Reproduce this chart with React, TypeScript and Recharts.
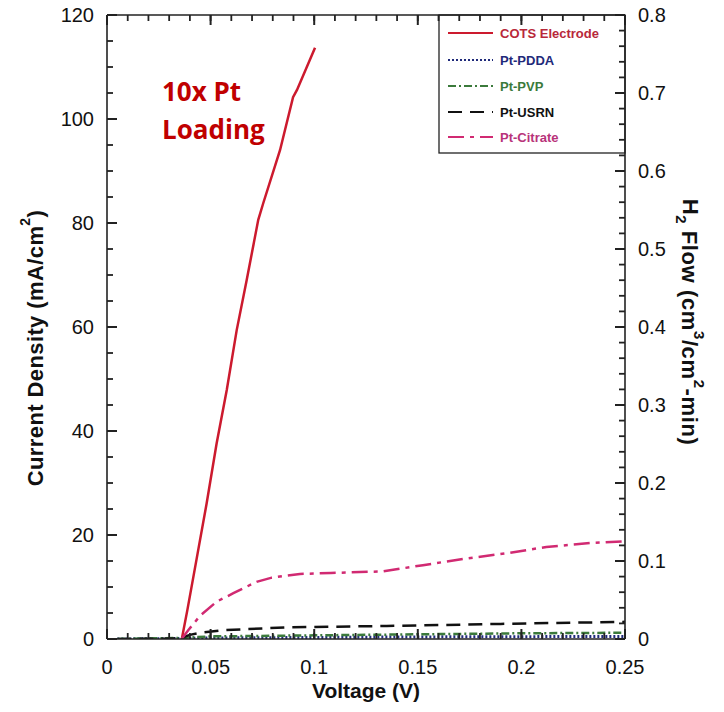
import { LineChart, Line, XAxis, YAxis } from "recharts"

// voltage (V) / current density (mA/cm2)
const cotsV = [0.0361, 0.0388, 0.0433, 0.0481, 0.0529, 0.0578, 0.0626, 0.0674, 0.073, 0.0754, 0.0835, 0.0898, 0.0917, 0.1004]
const cotsI = [0, 5.6, 15.5, 26.1, 37.6, 47.9, 59.4, 69, 80.6, 83.8, 94, 104.2, 105.6, 113.7]

const pddaV = [0.005, 0.036, 0.05, 0.1, 0.15, 0.2, 0.25]
const pddaI = [0, 0.1, 0.2, 0.3, 0.4, 0.45, 0.5]

const pvpV = [0.005, 0.036, 0.05, 0.1, 0.15, 0.2, 0.25]
const pvpI = [0, 0.2, 0.5, 0.7, 0.9, 1.1, 1.2]

const usrnV = [0.005, 0.035, 0.04, 0.045, 0.056, 0.087, 0.135, 0.19, 0.25]
const usrnI = [0, 0.1, 0.8, 1.2, 1.7, 2.25, 2.5, 2.9, 3.3]

const citrateV = [0.036, 0.0392, 0.045, 0.053, 0.061, 0.0722, 0.0795, 0.0931, 0.108, 0.133, 0.1525, 0.172, 0.193, 0.212, 0.2346, 0.25]
const citrateI = [0, 1.7, 4.5, 7.2, 8.8, 11.0, 11.8, 12.5, 12.7, 13.0, 14.2, 15.4, 16.5, 17.7, 18.5, 18.8]

const xMajor = [0, 0.05, 0.1, 0.15, 0.2, 0.25]
const yLeftMajor = [0, 20, 40, 60, 80, 100, 120]
const yRightMajor = [0, 0.1, 0.2, 0.3, 0.4, 0.5, 0.6, 0.7, 0.8]

const toPoints = (v: number[], i: number[]) => v.map((x, k) => ({ v: x, i: i[k] }))

const series = [
  { name: "COTS Electrode", data: toPoints(cotsV, cotsI), color: "#cc1a2e", dash: undefined, text: "#b8283a", width: 2.5 },
  { name: "Pt-PDDA", data: toPoints(pddaV, pddaI), color: "#1f2a7a", dash: "2 2", text: "#1f2a7a", width: 3 },
  { name: "Pt-PVP", data: toPoints(pvpV, pvpI), color: "#3b7a3b", dash: "8 3 2 3", text: "#3b7a3b", width: 2.5 },
  { name: "Pt-USRN", data: toPoints(usrnV, usrnI), color: "#111111", dash: "14 8", text: "#111111", width: 2.5 },
  { name: "Pt-Citrate", data: toPoints(citrateV, citrateI), color: "#d12a72", dash: "16 6 4 6", text: "#b8337a", width: 2.5 },
]

const font = "'Liberation Sans', Arial, sans-serif"
const ink = "#222"

// minor tick positions between the labelled ones
function buildTicks(max: number, step: number) {
  const n = Math.round(max / step)
  return Array.from({ length: n + 1 }, (_, k) => +(k * step).toFixed(4))
}
const isMajor = (v: number, majors: number[]) => majors.some((m) => Math.abs(m - v) < 1e-9)

const xTicks = buildTicks(0.25, 0.01)
const yLeftTicks = buildTicks(120, 5)
const yRightTicks = buildTicks(0.8, 0.02)

const MINOR = 6
const MAJOR = 10

type Side = "left" | "right" | "top" | "bottom"

// native tickLine draws the short (minor) mark; this adds the longer major mark and the label
const makeTick = (side: Side, majors: number[], margin: number, showLabel: boolean) => (props: any) => {
  const x = Number(props.x)
  const y = Number(props.y)
  const v = Number(props.payload.value)
  if (!isMajor(v, majors)) return <g />
  let d = ""
  let label = null
  const txt = { fontSize: 20, fontFamily: font, fill: "#111" }
  if (side === "left") {
    const ax = x + margin - MINOR
    d = `M${ax},${y}L${ax + MAJOR},${y}`
    if (showLabel) label = <text x={x} y={y} dy="0.35em" textAnchor="end" {...txt}>{String(v)}</text>
  } else if (side === "right") {
    const ax = x - margin + MINOR
    d = `M${ax},${y}L${ax - MAJOR},${y}`
    if (showLabel) label = <text x={x} y={y} dy="0.35em" textAnchor="start" {...txt}>{String(v)}</text>
  } else if (side === "bottom") {
    const ay = y - margin + MINOR
    d = `M${x},${ay}L${x},${ay - MAJOR}`
    if (showLabel) label = <text x={x} y={y} dy="0.71em" textAnchor="middle" {...txt}>{String(v)}</text>
  } else {
    const ay = y + margin - MINOR
    d = `M${x},${ay}L${x},${ay + MAJOR}`
  }
  return (
    <g>
      <path d={d} stroke={ink} strokeWidth={2} fill="none" />
      {label}
    </g>
  )
}

const axisLine = { stroke: ink, strokeWidth: 1.6 }
const tickLine = { stroke: ink, strokeWidth: 1.8 }

function Overlay() {
  const rows = [33, 60, 86, 112, 137]
  return (
    <svg width={724} height={712} style={{ position: "absolute", left: 0, top: 0, pointerEvents: "none" }}>
      {/* legend */}
      <rect x={439} y={15} width={186} height={138} fill="none" stroke={ink} strokeWidth={1.3} />
      {series.map((s, k) => (
        <g key={s.name}>
          <line x1={448} x2={493} y1={rows[k]} y2={rows[k]} stroke={s.color} strokeWidth={2.2} strokeDasharray={s.dash} />
          <text x={500} y={rows[k]} dy="0.35em" fontSize={13} fontWeight="bold" fontFamily={font} fill={s.text}>{s.name}</text>
        </g>
      ))}
      {/* axis titles */}
      <text x={35} y={348} transform="rotate(-90 35 348)" textAnchor="middle" dominantBaseline="central" fontSize={22} fontWeight="bold" fontFamily={font} letterSpacing={0.4} fill="#111">
        Current Density (mA/cm<tspan fontSize={14} dy={-10}>2</tspan><tspan dy={10}>)</tspan>
      </text>
      <text x={690} y={322} transform="rotate(90 690 322)" textAnchor="middle" dominantBaseline="central" fontSize={22} fontWeight="bold" fontFamily={font} letterSpacing={0.6} fill="#111">
        H<tspan fontSize={15} dy={8}>2</tspan><tspan dy={-8}> Flow (cm</tspan><tspan fontSize={15} dy={-10}>3</tspan><tspan dy={10}>/cm</tspan><tspan fontSize={15} dy={-10}>2</tspan><tspan dy={10}>-min)</tspan>
      </text>
      <text x={366} y={690} textAnchor="middle" dominantBaseline="central" fontSize={21} fontWeight="bold" fontFamily={font} fill="#111">
        Voltage (V)
      </text>
    </svg>
  )
}

export default function App() {
  return (
    <div style={{ position: "relative", width: 724, height: 712, margin: -8, background: "#fff", overflow: "hidden" }}>
      <LineChart width={724} height={712} margin={{ top: 14, right: 19, bottom: 0, left: 0 }}>
        <XAxis xAxisId="b" dataKey="v" type="number" domain={[0, 0.25]} ticks={xTicks} interval={0}
          tickSize={-MINOR} tickMargin={27} tick={makeTick("bottom", xMajor, 27, true)} tickLine={tickLine}
          axisLine={axisLine} height={73} allowDataOverflow />
        <XAxis xAxisId="t" orientation="top" dataKey="v" type="number" domain={[0, 0.25]} ticks={xTicks} interval={0}
          tickSize={-MINOR} tickMargin={0} tick={makeTick("top", xMajor, 0, false)} tickLine={tickLine}
          axisLine={axisLine} height={1} allowDataOverflow />
        <YAxis yAxisId="l" type="number" domain={[0, 120]} ticks={yLeftTicks} interval={0}
          tickSize={-MINOR} tickMargin={19} tick={makeTick("left", yLeftMajor, 19, true)} tickLine={tickLine}
          axisLine={axisLine} width={107} allowDataOverflow />
        <YAxis yAxisId="r" orientation="right" type="number" domain={[0, 0.8]} ticks={yRightTicks} interval={0}
          tickSize={-MINOR} tickMargin={19} tick={makeTick("right", yRightMajor, 19, true)} tickLine={tickLine}
          axisLine={axisLine} width={80} allowDataOverflow />
        {series.map((s) => (
          <Line
            key={s.name}
            xAxisId="b"
            yAxisId="l"
            data={s.data}
            dataKey="i"
            name={s.name}
            type="linear"
            stroke={s.color}
            strokeWidth={s.width}
            strokeDasharray={s.dash}
            dot={false}
            activeDot={false}
            isAnimationActive={false}
          />
        ))}
      </LineChart>
      <Overlay />
      <div
        style={{
          position: "absolute",
          left: 162,
          top: 72,
          color: "#c00000",
          fontFamily: "'Open Sans', sans-serif",
          fontWeight: 700,
          fontSize: 26,
          lineHeight: "38px",
          whiteSpace: "nowrap",
        }}
      >
        10x Pt
        <br />
        Loading
      </div>
    </div>
  )
}
